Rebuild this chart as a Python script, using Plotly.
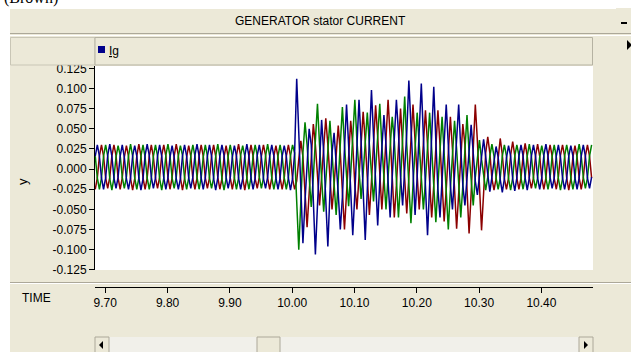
import plotly.graph_objects as go

# ---------------- data ----------------
title_text = "GENERATOR stator CURRENT"
series_name = "Ig"
x_title = "TIME"
y_title = "y"
top_cut_text = "(Brown)"

x_tick_vals = [9.70, 9.80, 9.90, 10.00, 10.10, 10.20, 10.30, 10.40]
x_tick_text = ["9.70", "9.80", "9.90", "10.00", "10.10", "10.20", "10.30", "10.40"]
y_tick_vals = [0.125, 0.100, 0.075, 0.050, 0.025, 0.0, -0.025, -0.050, -0.075, -0.100, -0.125]
y_tick_text = ["0.125", "0.100", "0.075", "0.050", "0.025", "0.000",
               "-0.025", "-0.050", "-0.075", "-0.100", "-0.125"]

# sampling grid of the recorded trace (s)
sample_t0 = 9.6839
sample_dt = 1 / 300

# phase currents, six samples per 50 Hz cycle
phase_blue = [
    0.016, 0.030, 0.016, -0.011, -0.025, -0.011,
    0.017, 0.031, 0.016, -0.011, -0.024, -0.010,
    0.016, 0.030, 0.015, -0.012, -0.025, -0.011,
    0.016, 0.029, 0.016, -0.011, -0.026, -0.012,
    0.017, 0.031, 0.017, -0.010, -0.024, -0.011,
    0.016, 0.030, 0.016, -0.011, -0.025, -0.011,
    0.015, 0.029, 0.015, -0.012, -0.025, -0.012,
    0.016, 0.030, 0.016, -0.011, -0.024, -0.010,
    0.017, 0.031, 0.016, -0.011, -0.025, -0.011,
    0.016, 0.030, 0.016, -0.012, -0.026, -0.011,
    0.016, 0.030, 0.017, -0.010, -0.024, -0.011,
    0.015, 0.029, 0.016, -0.011, -0.025, -0.012,
    0.016, 0.031, 0.016, -0.011, -0.025, -0.011,
    0.017, 0.030, 0.015, -0.012, -0.024, -0.010,
    0.016, 0.030, 0.016, -0.011, -0.025, -0.011,
    0.016, 0.029, 0.016, -0.011, -0.026, -0.012,
    0.020, 0.112, 0.045, -0.035, -0.092, -0.040,
    0.010, 0.050, 0.030, -0.050, -0.106, -0.045,
    0.015, 0.061, 0.020, -0.040, -0.096, -0.030,
    0.020, 0.045, 0.010, -0.030, -0.075, -0.035,
    0.025, 0.080, 0.030, -0.035, -0.082, -0.030,
    0.030, 0.086, 0.035, -0.030, -0.088, -0.025,
    0.035, 0.098, 0.040, -0.020, -0.070, -0.015,
    0.030, 0.067, 0.030, -0.015, -0.060, -0.010,
    0.035, 0.086, 0.045, -0.010, -0.045, -0.005,
    0.045, 0.110, 0.050, -0.015, -0.057, -0.010,
    0.040, 0.106, 0.040, -0.030, -0.082, -0.020,
    0.040, 0.102, 0.035, -0.025, -0.060, -0.015,
    0.030, 0.080, 0.030, -0.020, -0.050, -0.010,
    0.030, 0.080, 0.025, -0.020, -0.045, -0.010,
    0.020, 0.055, 0.020, -0.015, -0.032, -0.005,
    0.015, 0.037, 0.015, -0.012, -0.028, -0.010,
    0.012, 0.028, 0.015, -0.013, -0.029, -0.012,
    0.014, 0.029, 0.016, -0.012, -0.027, -0.011,
    0.016, 0.030, 0.016, -0.011, -0.026, -0.011,
    0.016, 0.030, 0.016, -0.011, -0.025, -0.011,
    0.017, 0.031, 0.016, -0.010, -0.024, -0.011,
    0.016, 0.030, 0.015, -0.011, -0.025, -0.012,
    0.016, 0.029, 0.016, -0.011, -0.025, -0.011,
    0.016, 0.030, 0.016, -0.011, -0.024, -0.010,
]

phase_red = [
    -0.025, -0.011, 0.016, 0.030, 0.016, -0.011,
    -0.024, -0.010, 0.016, 0.030, 0.017, -0.011,
    -0.025, -0.011, 0.015, 0.029, 0.016, -0.012,
    -0.026, -0.012, 0.016, 0.031, 0.016, -0.011,
    -0.025, -0.011, 0.016, 0.030, 0.015, -0.011,
    -0.024, -0.010, 0.017, 0.030, 0.016, -0.010,
    -0.025, -0.011, 0.016, 0.031, 0.017, -0.011,
    -0.026, -0.012, 0.015, 0.029, 0.016, -0.012,
    -0.025, -0.011, 0.016, 0.030, 0.016, -0.011,
    -0.024, -0.011, 0.016, 0.030, 0.016, -0.010,
    -0.025, -0.012, 0.015, 0.029, 0.015, -0.011,
    -0.025, -0.011, 0.017, 0.031, 0.016, -0.011,
    -0.026, -0.011, 0.016, 0.030, 0.016, -0.012,
    -0.024, -0.010, 0.016, 0.030, 0.017, -0.011,
    -0.025, -0.011, 0.016, 0.029, 0.015, -0.011,
    -0.025, -0.011, 0.016, 0.030, 0.016, -0.012,
    -0.025, -0.015, 0.012, 0.035, 0.015, -0.035,
    -0.072, -0.030, 0.020, 0.056, 0.030, -0.010,
    -0.045, -0.010, 0.030, 0.063, 0.030, -0.015,
    -0.050, -0.020, 0.025, 0.054, 0.020, -0.030,
    -0.075, -0.030, 0.020, 0.060, 0.030, -0.020,
    -0.050, -0.010, 0.035, 0.071, 0.035, -0.015,
    -0.057, -0.015, 0.040, 0.079, 0.040, -0.010,
    -0.050, -0.010, 0.045, 0.086, 0.040, -0.015,
    -0.060, -0.020, 0.035, 0.075, 0.030, -0.020,
    -0.055, -0.010, 0.040, 0.080, 0.035, -0.015,
    -0.050, -0.010, 0.035, 0.073, 0.030, -0.020,
    -0.060, -0.020, 0.035, 0.073, 0.030, -0.025,
    -0.065, -0.025, 0.030, 0.065, 0.025, -0.030,
    -0.074, -0.030, 0.020, 0.056, 0.030, -0.030,
    -0.080, -0.030, 0.035, 0.080, 0.035, -0.030,
    -0.076, -0.030, 0.020, 0.040, 0.020, -0.012,
    -0.026, -0.012, 0.018, 0.038, 0.018, -0.012,
    -0.025, -0.011, 0.017, 0.034, 0.017, -0.011,
    -0.025, -0.011, 0.016, 0.032, 0.016, -0.011,
    -0.024, -0.011, 0.016, 0.031, 0.016, -0.011,
    -0.025, -0.011, 0.016, 0.030, 0.016, -0.012,
    -0.025, -0.010, 0.017, 0.030, 0.016, -0.011,
    -0.026, -0.012, 0.015, 0.029, 0.015, -0.011,
    -0.025, -0.011, 0.016, 0.030, 0.016, -0.011,
]

phase_green = [
    0.016, -0.011, -0.025, -0.011, 0.016, 0.030,
    0.016, -0.012, -0.026, -0.011, 0.015, 0.029,
    0.017, -0.010, -0.024, -0.010, 0.016, 0.031,
    0.016, -0.011, -0.025, -0.011, 0.016, 0.030,
    0.015, -0.011, -0.025, -0.012, 0.016, 0.030,
    0.016, -0.012, -0.026, -0.011, 0.017, 0.031,
    0.016, -0.011, -0.024, -0.010, 0.016, 0.029,
    0.017, -0.011, -0.025, -0.011, 0.016, 0.030,
    0.016, -0.010, -0.025, -0.011, 0.015, 0.030,
    0.016, -0.011, -0.024, -0.011, 0.016, 0.031,
    0.015, -0.012, -0.026, -0.012, 0.016, 0.030,
    0.016, -0.011, -0.025, -0.011, 0.017, 0.029,
    0.016, -0.011, -0.025, -0.010, 0.016, 0.030,
    0.017, -0.010, -0.024, -0.011, 0.016, 0.031,
    0.016, -0.011, -0.025, -0.011, 0.016, 0.030,
    0.016, -0.011, -0.025, -0.011, 0.016, 0.030,
    0.020, -0.040, -0.100, -0.040, 0.020, 0.058,
    0.030, -0.010, -0.047, -0.010, 0.040, 0.081,
    0.030, -0.015, -0.053, -0.015, 0.030, 0.060,
    0.020, -0.020, -0.057, -0.015, 0.035, 0.077,
    0.030, -0.010, -0.046, -0.005, 0.045, 0.086,
    0.035, 0.000, -0.037, -0.005, 0.035, 0.070,
    0.030, 0.000, -0.040, 0.000, 0.040, 0.081,
    0.030, -0.010, -0.050, -0.010, 0.030, 0.065,
    0.035, -0.015, -0.060, -0.015, 0.040, 0.090,
    0.030, -0.020, -0.067, -0.020, 0.030, 0.070,
    0.030, -0.010, -0.050, -0.015, 0.030, 0.070,
    0.025, -0.020, -0.066, -0.020, 0.025, 0.065,
    0.020, -0.030, -0.075, -0.025, 0.025, 0.060,
    0.025, -0.020, -0.060, -0.020, 0.025, 0.067,
    0.020, -0.010, -0.045, -0.010, 0.015, 0.036,
    0.012, -0.010, -0.026, -0.010, 0.016, 0.031,
    0.016, -0.011, -0.025, -0.011, 0.016, 0.030,
    0.016, -0.012, -0.026, -0.011, 0.016, 0.030,
    0.017, -0.011, -0.025, -0.010, 0.016, 0.031,
    0.016, -0.011, -0.024, -0.011, 0.015, 0.029,
    0.016, -0.011, -0.025, -0.011, 0.016, 0.030,
    0.015, -0.012, -0.026, -0.012, 0.016, 0.030,
    0.016, -0.011, -0.025, -0.011, 0.017, 0.031,
    0.016, -0.010, -0.024, -0.011, 0.016, 0.030,
]

time_s = [sample_t0 + i * sample_dt for i in range(len(phase_blue))]

# ---------------- layout geometry (pixels) ----------------
W, H = 631, 352
ML, MR, MT, MB = 95, 38, 66, 65
PW, PH = W - ML - MR, H - MT - MB
PLOT_BOTTOM_PX = 270
BEIGE = "#ECE9D8"
EDGE = "#ACA899"


def px(x):
    return (x - ML) / PW


def py(y):
    return (H - MB - y) / PH


def rect(x0, y0, x1, y1, fill, line=None, lw=1):
    return dict(type="rect", xref="paper", yref="paper",
                x0=px(x0), x1=px(x1), y0=py(y1), y1=py(y0),
                fillcolor=fill, line=dict(color=line or fill, width=lw if line else 0),
                layer="above")


def hline(x0, x1, y, color):
    return dict(type="line", xref="paper", yref="paper",
                x0=px(x0), x1=px(x1), y0=py(y), y1=py(y),
                line=dict(color=color, width=1), layer="above")


def tri(points, color="black"):
    path = "M " + " L ".join(f"{px(a)},{py(b)}" for a, b in points) + " Z"
    return dict(type="path", xref="paper", yref="paper", path=path,
                fillcolor=color, line=dict(color=color, width=0), layer="above")


FONT = "Liberation Sans, Arial, sans-serif"

fig = go.Figure()
for vals, col in [(phase_red, "#8B0000"), (phase_green, "#008000"), (phase_blue, "#00008B")]:
    fig.add_trace(go.Scatter(x=time_s, y=vals, mode="lines",
                             line=dict(color=col, width=1.5), hoverinfo="skip"))

shapes = [
    # white page outside the window panel
    rect(0, 0, 10, H, "white"),
    rect(0, 0, W, 8, "white"),
    # title bar
    rect(10, 8, 616, 33, BEIGE),
    hline(10, 616, 8.5, "white"),
    hline(10, 631, 33.5, EDGE),
    hline(10, 631, 35.5, "white"),
    # minimise button
    rect(618, 8, 631, 33, BEIGE),
    rect(621, 22, 627, 24, "black"),
    # legend row
    rect(10.5, 37.5, 95, 65, BEIGE, "#C9C6B6"),
    rect(95, 37.5, 592.5, 65, BEIGE, "#B5B2A2"),
    tri([(627, 40), (632, 45), (627, 50)]),
    rect(98, 46, 105, 53, "#00008B"),
    # separator above time axis
    hline(10, 631, 282.5, EDGE),
    hline(10, 631, 283.5, "white"),
    # scrollbar
    rect(95, 337, 593, 353, "#F1F0EA"),
    rect(95, 337, 109, 353, BEIGE, EDGE),
    rect(579, 337, 593, 353, BEIGE, EDGE),
    rect(257, 337, 280, 353, BEIGE, EDGE),
    tri([(103, 341), (99, 345), (103, 349)]),
    tri([(584, 341), (588, 345), (584, 349)]),
]


def ann(text, x, y, size=12, xanchor="center", angle=0, family=FONT):
    return dict(text=text, xref="paper", yref="paper", x=px(x), y=py(y),
                xanchor=xanchor, yanchor="middle", showarrow=False, textangle=angle,
                font=dict(family=family, size=size, color="black"))


annotations = [
    ann(title_text, 320, 21),
    ann(top_cut_text, 2, -2, size=16, xanchor="left",
        family="Liberation Serif, Times New Roman, serif"),
    ann("<u>" + series_name + "</u>", 107, 51, xanchor="left"),
    ann(y_title, 22, 182, size=13, angle=-90),
    ann(x_title, 36, 298),
]

fig.update_layout(
    width=W, height=H,
    margin=dict(l=ML, r=MR, t=MT, b=MB, pad=0),
    paper_bgcolor=BEIGE, plot_bgcolor="white",
    showlegend=False,
    shapes=shapes, annotations=annotations,
    font=dict(family=FONT, size=12, color="black"),
    xaxis=dict(range=[9.6835, 10.4828], anchor="free", position=0,
               showline=True, linecolor="black", linewidth=1,
               ticks="outside", ticklen=5, tickcolor="black",
               tickvals=x_tick_vals, ticktext=x_tick_text,
               showgrid=False, zeroline=False,
               tickfont=dict(family=FONT, size=12, color="black")),
    yaxis=dict(domain=[(H - MB - PLOT_BOTTOM_PX) / PH, 1],
               range=[-0.1252, 0.1279],
               showline=True, linecolor="black", linewidth=1,
               ticks="outside", ticklen=5, tickcolor="black",
               tickvals=y_tick_vals, ticktext=y_tick_text,
               showgrid=False, zeroline=False,
               tickfont=dict(family=FONT, size=12, color="black")),
)

fig.write_html("out.html")
